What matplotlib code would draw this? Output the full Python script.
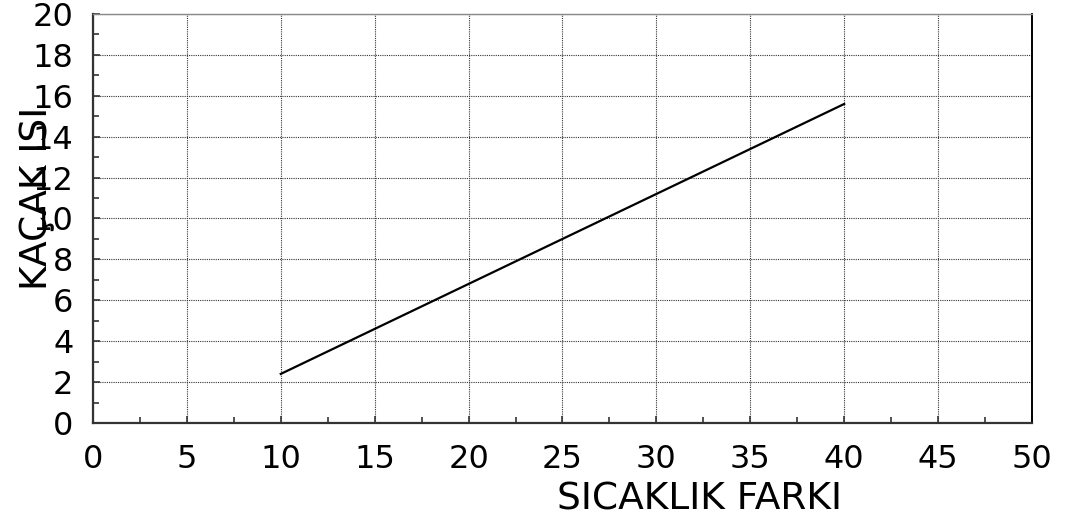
import matplotlib
matplotlib.use('Agg')
import matplotlib.pyplot as plt
from matplotlib.ticker import MultipleLocator

# temperature difference vs heat loss
sicaklik_farki = [10, 20, 30, 40]
kacak_isi = [2.4, 6.8, 11.2, 15.6]

x_ticks = [0, 5, 10, 15, 20, 25, 30, 35, 40, 45, 50]
y_ticks = [0, 2, 4, 6, 8, 10, 12, 14, 16, 18, 20]

plt.rcParams['font.family'] = ['DejaVu Sans']

fig = plt.figure(figsize=(10.65, 5.18), dpi=100)
ax = fig.add_axes([0.0873, 0.1834, 0.8817, 0.7896])

ax.plot(sicaklik_farki, kacak_isi, color='black', linewidth=1.6)

ax.set_xlim(0, 50)
ax.set_ylim(0, 20)
ax.set_xticks(x_ticks)
ax.set_yticks(y_ticks)
ax.xaxis.set_minor_locator(MultipleLocator(2.5))
ax.yaxis.set_minor_locator(MultipleLocator(1))

ax.grid(True, which='major', color='#333333', linestyle=(0, (1, 1)), linewidth=0.8)

ax.tick_params(which='both', direction='in', colors='#333333', labelcolor='black')
ax.tick_params(which='major', length=5, width=1.2)
ax.tick_params(which='minor', length=4, width=1.2)
ax.tick_params(axis='x', labelsize=23, pad=15)
ax.tick_params(axis='y', labelsize=23, pad=14)

ax.spines['left'].set_linewidth(1.6)
ax.spines['left'].set_color('#333333')
ax.spines['bottom'].set_linewidth(1.6)
ax.spines['bottom'].set_color('#333333')
ax.spines['top'].set_linewidth(1.0)
ax.spines['top'].set_color('#888888')
ax.spines['right'].set_linewidth(1.4)
ax.spines['right'].set_color('black')

ax.set_xlabel('SICAKLIK FARKI', fontsize=27)
ax.set_ylabel('KAÇAK ISI', fontsize=27)
ax.xaxis.set_label_coords(0.646, -0.142)
ax.yaxis.set_label_coords(-0.040, 0.55)

fig.savefig('out.png', dpi=100)
